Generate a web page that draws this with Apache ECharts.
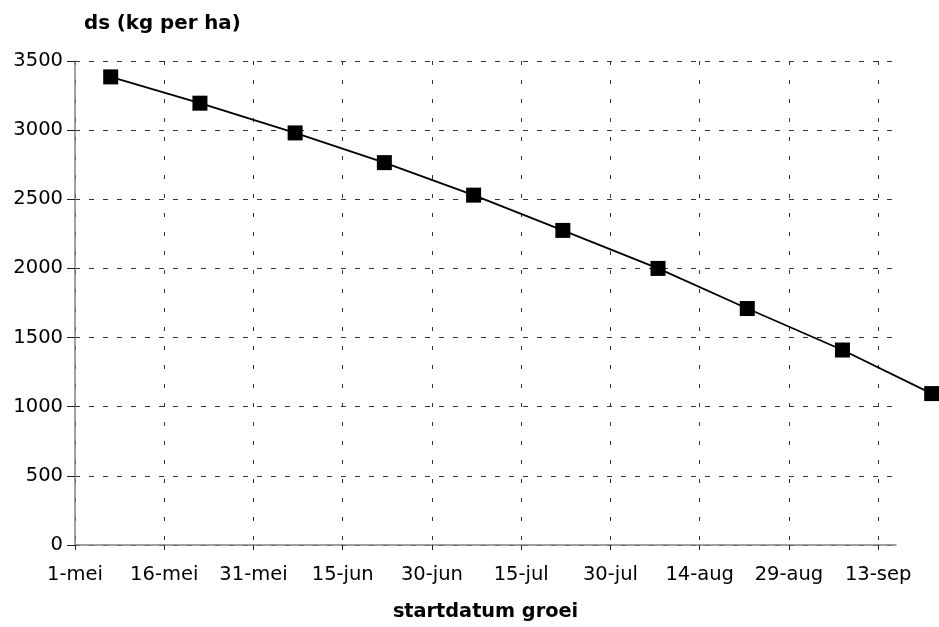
<!DOCTYPE html>
<html><head><meta charset="utf-8">
<script src="https://cdn.jsdelivr.net/npm/echarts@6/dist/echarts.min.js"></script>
<style>html,body{margin:0;padding:0;background:#fff}#c{width:939px;height:627px}</style>
</head><body><div id="c"></div>
<script>
var startDates = ["2009-05-07","2009-05-22","2009-06-07","2009-06-22","2009-07-07","2009-07-22","2009-08-07","2009-08-22","2009-09-07","2009-09-22"];
var dsValues = [3385, 3195, 2980, 2765, 2530, 2275, 2000, 1710, 1410, 1095];
var axisStart = "2009-05-01";
var monthNames = ["jan","feb","mrt","apr","mei","jun","jul","aug","sep","okt","nov","dec"];

var DAY = 86400000;
function toUTC(s){ var p = s.split("-"); return Date.UTC(+p[0], +p[1]-1, +p[2]); }
var t0 = toUTC(axisStart);
function dayOffset(s){ return Math.round((toUTC(s) - t0)/DAY); }
var data = startDates.map(function(d, i){ return [dayOffset(d), dsValues[i]]; });

var AX_MAX = 138, AX2_MAX = 145, PLOT_W = 821;
var chart = echarts.init(document.getElementById('c'));
var font = "DejaVu Sans, Verdana, sans-serif";
chart.setOption({
  animation: false,
  grid: [
    {left: 75, width: PLOT_W, top: 61, bottom: 82, containLabel: false},
    {left: 75, width: PLOT_W * AX2_MAX / AX_MAX, top: 61, bottom: 82, containLabel: false}
  ],
  title: {text: "ds (kg per ha)", left: 79, top: 9, textStyle: {fontFamily: font, fontSize: 19.8, fontWeight: "bold", color: "#000"}},
  xAxis: [{
    gridIndex: 0, type: "value", min: 0, max: AX_MAX, interval: 15,
    name: "startdatum groei", nameLocation: "middle", nameGap: 57,
    nameTextStyle: {fontFamily: font, fontSize: 19.3, fontWeight: "bold", color: "#000"},
    axisLine: {show: true, onZero: false, lineStyle: {color: "#808080", width: 1.5}},
    axisTick: {show: true, inside: false, length: 5, lineStyle: {color: "#222"}},
    axisLabel: {fontFamily: font, fontSize: 19.5, color: "#000", margin: 20, showMaxLabel: false,
      formatter: function(v){ var d = new Date(t0 + v*DAY); return d.getUTCDate() + "-" + monthNames[d.getUTCMonth()]; }},
    splitLine: {show: true, showMaxLine: false, lineStyle: {color: "#333", type: [4, 15], width: 1}}
  }, {
    gridIndex: 1, type: "value", min: 0, max: AX2_MAX, show: false
  }],
  yAxis: [{
    gridIndex: 0, type: "value", min: 0, max: 3500, interval: 500,
    axisLine: {show: true, lineStyle: {color: "#808080", width: 1.5}},
    axisTick: {show: true, length: 8, lineStyle: {color: "#222"}},
    axisLabel: {fontFamily: font, fontSize: 19.5, color: "#000", margin: 12, formatter: function(v){ return String(v); }},
    splitLine: {show: true, lineStyle: {color: "#333", type: [5, 9], width: 1}}
  }, {
    gridIndex: 1, type: "value", min: 0, max: 3500, show: false
  }],
  series: [{
    type: "line", xAxisIndex: 1, yAxisIndex: 1, data: data,
    symbol: "rect", symbolSize: 15,
    itemStyle: {color: "#000"},
    lineStyle: {color: "#000", width: 1.8}
  }]
});
</script></body></html>
